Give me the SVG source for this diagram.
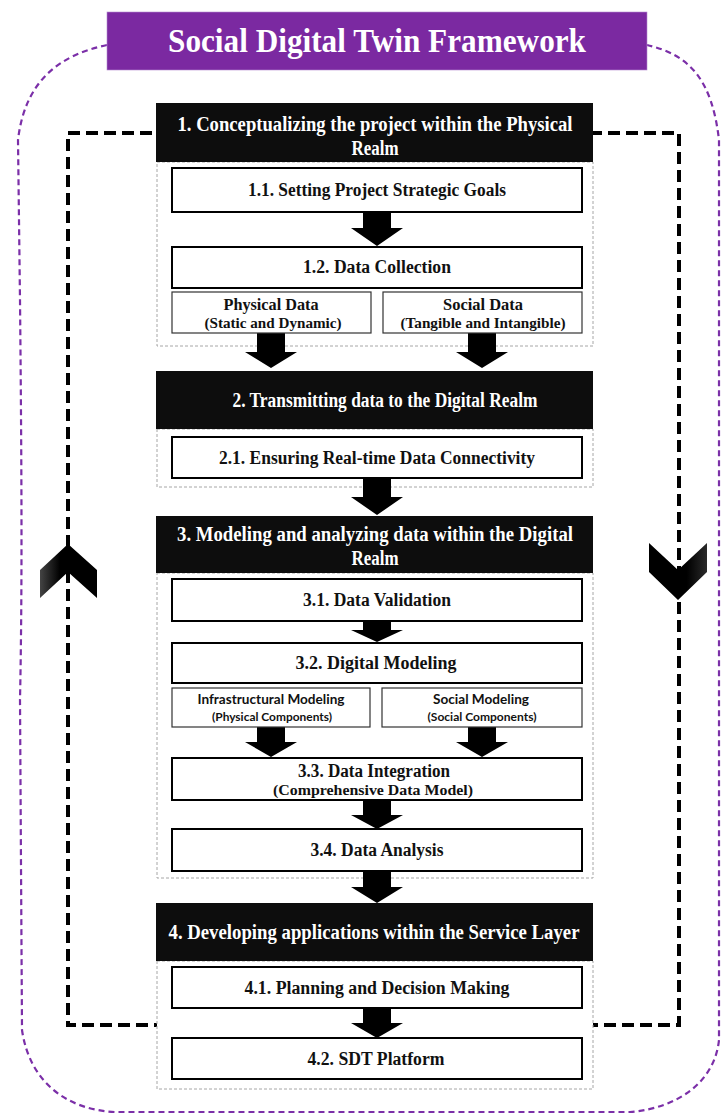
<svg xmlns="http://www.w3.org/2000/svg" width="721" height="1115" viewBox="0 0 721 1115">
<style>
.t{font-family:"Liberation Serif","Times New Roman",serif;font-weight:bold;text-anchor:middle;fill:#111}
.w{fill:#fff}
.s{font-family:Lato,"Open Sans","Liberation Sans",sans-serif;font-weight:bold;text-anchor:middle;fill:#111}
.hdr{fill:#0d0d0d}
.box{fill:#fff;stroke:#000;stroke-width:2}
.sub{fill:#fff;stroke:#333;stroke-width:1.2}
.cont{fill:#fff;stroke:#a6a6a6;stroke-width:1;stroke-dasharray:3 2}
.arr{fill:#000}
</style>
<defs>
<linearGradient id="gl" x1="0" y1="0" x2="1" y2="0">
<stop offset="0" stop-color="#444"/><stop offset="0.35" stop-color="#000"/><stop offset="1" stop-color="#000"/>
</linearGradient>
<linearGradient id="gr" x1="0" y1="0" x2="1" y2="0">
<stop offset="0" stop-color="#000"/><stop offset="0.65" stop-color="#000"/><stop offset="1" stop-color="#2a2a2a"/>
</linearGradient>
</defs>

<g id="loops">
<path d="M107,45 C60,55 25,80 18,140 L20,300 C22,500 22,600 20,700 L22,1030 C30,1085 70,1110 115,1112 L630,1112 C680,1108 715,1080 719,1040 L719,140 C712,80 690,55 647,45" fill="none" stroke="#7B2FA8" stroke-width="2.2" stroke-dasharray="6 4"/>
<rect x="68" y="133" width="611" height="892" fill="none" stroke="#000" stroke-width="4" stroke-dasharray="12 6"/>
<polygon points="68,544 97,570 97,598 68,572 40,598 40,570" fill="url(#gl)"/>
<polygon points="649,543 678,570 707,543 707,572 678,600 649,572" fill="url(#gr)"/>
</g>

<g id="title">
<rect x="107" y="12" width="540" height="58" fill="#7B29A1" stroke="#b48bd0" stroke-width="0.6"/>
<text x="377" y="52" class="t w" font-size="33" textLength="418" lengthAdjust="spacingAndGlyphs">Social Digital Twin Framework</text>
</g>

<g id="containers">
<rect id="c1" x="157" y="162" width="436" height="184" class="cont"/>
<rect id="c2" x="157" y="429" width="436" height="58" class="cont"/>
<rect id="c3" x="157" y="573" width="436" height="305" class="cont"/>
<rect id="c4" x="157" y="961" width="436" height="128" class="cont"/>
</g>

<g id="connectors">
<polygon class="arr" points="363,212 391,212 391,228 403,228 377,246 351,228 363,228"/>
<polygon class="arr" points="257,333 285,333 285,352 297,352 271,368 245,352 257,352"/>
<polygon class="arr" points="468,333 496,333 496,352 508,352 482,368 456,352 468,352"/>
<polygon class="arr" points="363,478 391,478 391,497 403,497 377,515 351,497 363,497"/>
<polygon class="arr" points="363,621 391,621 391,630 403,630 377,642 351,630 363,630"/>
<polygon class="arr" points="257,727 285,727 285,742 297,742 271,757 245,742 257,742"/>
<polygon class="arr" points="468,727 496,727 496,742 508,742 482,757 456,742 468,742"/>
<polygon class="arr" points="363,800 391,800 391,815 403,815 377,829 351,815 363,815"/>
<polygon class="arr" points="363,871 391,871 391,887 403,887 377,903 351,887 363,887"/>
<polygon class="arr" points="363,1008 391,1008 391,1023 403,1023 377,1038 351,1023 363,1023"/>
</g>

<g id="h1">
<rect x="156" y="103" width="437" height="59" class="hdr"/>
<text x="375" y="131" class="t w" font-size="20.5" textLength="395" lengthAdjust="spacingAndGlyphs">1. Conceptualizing the project within the Physical</text>
<text x="375" y="155" class="t w" font-size="20.5" textLength="47" lengthAdjust="spacingAndGlyphs">Realm</text>
</g>
<g id="n1_1">
<rect x="172" y="168" width="410" height="44" class="box"/>
<text x="377" y="196" class="t" font-size="18.5" textLength="258" lengthAdjust="spacingAndGlyphs">1.1. Setting Project Strategic Goals</text>
</g>
<g id="n1_2">
<rect x="172" y="247" width="410" height="41" class="box"/>
<text x="377" y="273" class="t" font-size="18.5" textLength="148" lengthAdjust="spacingAndGlyphs">1.2. Data Collection</text>
</g>
<g id="n_phys">
<rect x="172" y="292" width="199" height="41" class="sub"/>
<text x="271" y="310" class="t" font-size="16" textLength="95" lengthAdjust="spacingAndGlyphs">Physical Data</text>
<text x="273" y="328" class="t" font-size="15" textLength="137" lengthAdjust="spacingAndGlyphs">(Static and Dynamic)</text>
</g>
<g id="n_soc">
<rect x="383" y="292" width="199" height="41" class="sub"/>
<text x="483" y="310" class="t" font-size="16" textLength="80" lengthAdjust="spacingAndGlyphs">Social Data</text>
<text x="483" y="328" class="t" font-size="15" textLength="165" lengthAdjust="spacingAndGlyphs">(Tangible and Intangible)</text>
</g>

<g id="h2">
<rect x="156" y="371" width="437" height="58" class="hdr"/>
<text x="385" y="407" class="t w" font-size="20.5" textLength="305" lengthAdjust="spacingAndGlyphs">2. Transmitting data to the Digital Realm</text>
</g>
<g id="n2_1">
<rect x="172" y="437" width="410" height="41" class="box"/>
<text x="377" y="464" class="t" font-size="18.5" textLength="316" lengthAdjust="spacingAndGlyphs">2.1. Ensuring Real-time Data Connectivity</text>
</g>

<g id="h3">
<rect x="156" y="516" width="437" height="57" class="hdr"/>
<text x="375" y="541" class="t w" font-size="20.5" textLength="396" lengthAdjust="spacingAndGlyphs">3. Modeling and analyzing data within the Digital</text>
<text x="375" y="565" class="t w" font-size="20.5" textLength="47" lengthAdjust="spacingAndGlyphs">Realm</text>
</g>
<g id="n3_1">
<rect x="172" y="579" width="410" height="42" class="box"/>
<text x="377" y="606" class="t" font-size="18.5" textLength="148" lengthAdjust="spacingAndGlyphs">3.1. Data Validation</text>
</g>
<g id="n3_2">
<rect x="172" y="643" width="410" height="40" class="box"/>
<text x="376" y="669" class="t" font-size="18.5" textLength="161" lengthAdjust="spacingAndGlyphs">3.2. Digital Modeling</text>
</g>
<g id="n_infra">
<rect x="172" y="688" width="198" height="39" class="sub"/>
<text x="271" y="704" class="s" font-size="13" textLength="147" lengthAdjust="spacingAndGlyphs">Infrastructural Modeling</text>
<text x="272" y="721" class="s" font-size="11.5" textLength="120" lengthAdjust="spacingAndGlyphs">(Physical Components)</text>
</g>
<g id="n_socmod">
<rect x="382" y="688" width="200" height="39" class="sub"/>
<text x="481" y="704" class="s" font-size="13" textLength="96" lengthAdjust="spacingAndGlyphs">Social Modeling</text>
<text x="482" y="721" class="s" font-size="11.5" textLength="109" lengthAdjust="spacingAndGlyphs">(Social Components)</text>
</g>
<g id="n3_3">
<rect x="172" y="758" width="410" height="42" class="box"/>
<text x="374" y="777" class="t" font-size="18" textLength="152" lengthAdjust="spacingAndGlyphs">3.3. Data Integration</text>
<text x="373" y="795" class="t" font-size="15.5" textLength="200" lengthAdjust="spacingAndGlyphs">(Comprehensive Data Model)</text>
</g>
<g id="n3_4">
<rect x="172" y="829" width="410" height="42" class="box"/>
<text x="377" y="856" class="t" font-size="18.5" textLength="133" lengthAdjust="spacingAndGlyphs">3.4. Data Analysis</text>
</g>

<g id="h4">
<rect x="156" y="903" width="437" height="58" class="hdr"/>
<text x="374" y="939" class="t w" font-size="20.5" textLength="411" lengthAdjust="spacingAndGlyphs">4. Developing applications within the Service Layer</text>
</g>
<g id="n4_1">
<rect x="172" y="967" width="410" height="41" class="box"/>
<text x="377" y="994" class="t" font-size="18.5" textLength="265" lengthAdjust="spacingAndGlyphs">4.1. Planning and Decision Making</text>
</g>
<g id="n4_2">
<rect x="172" y="1038" width="410" height="41" class="box"/>
<text x="376" y="1065" class="t" font-size="18.5" textLength="137" lengthAdjust="spacingAndGlyphs">4.2. SDT Platform</text>
</g>
</svg>
